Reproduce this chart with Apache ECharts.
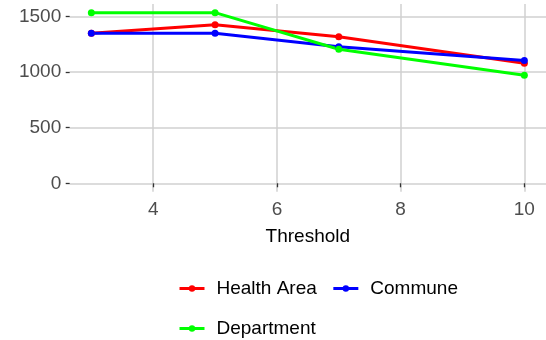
<!DOCTYPE html>
<html>
<head>
<meta charset="utf-8">
<script src="https://cdn.jsdelivr.net/npm/echarts@6/dist/echarts.min.js"></script>
<style>
  html, body { margin: 0; padding: 0; background: #ffffff; }
  #chart { width: 546px; height: 340px; }
</style>
</head>
<body>
<div id="chart"></div>
<script>
// Thresholds on the x axis
const thresholds = [3, 5, 7, 10];

// Counts per aggregation level
const healthArea = [1348, 1425, 1317, 1078];
const commune    = [1348, 1348, 1227, 1102];
const department = [1533, 1533, 1204, 970];

// Tick positions
const xTicks = [4, 6, 8, 10];
const yTicks = [0, 500, 1000, 1500];

const seriesDefs = [
  { name: 'Health Area', values: healthArea, color: '#ff0000' },
  { name: 'Commune',     values: commune,    color: '#0000ff' },
  { name: 'Department',  values: department, color: '#00ff00' }
];

const font = 'Liberation Sans, Arial, sans-serif';
const gridColor = '#d0d0d0';
const tickColor = '#333333';

const chart = echarts.init(document.getElementById('chart'), null, { renderer: 'canvas' });

const legendBase = {
  padding: 0,
  itemWidth: 25, itemHeight: 8, itemGap: 15,
  itemStyle: { borderWidth: 0 },
  lineStyle: { width: 3 },
  textStyle: { color: '#000000', fontSize: 19, fontFamily: font, padding: [0, 0, 0, 7] }
};

chart.setOption({
  backgroundColor: '#ffffff',
  animation: false,
  grid: { left: 69.7, right: -10.4, top: 4.1, bottom: 148.2, containLabel: false },
  xAxis: {
    type: 'value',
    min: 2.65,
    max: 10.35,
    name: 'Threshold',
    nameLocation: 'middle',
    nameGap: 35,
    nameTextStyle: { color: '#000000', fontSize: 19, fontFamily: font },
    axisLine: { show: false },
    axisTick: { show: true, customValues: xTicks, length: 4, lineStyle: { color: tickColor, width: 1.3 } },
    axisLabel: { customValues: xTicks, color: '#4d4d4d', fontSize: 19, fontFamily: font, margin: 8 },
    splitLine: { show: true, lineStyle: { color: gridColor, width: 1.5 } }
  },
  yAxis: {
    type: 'value',
    min: -76.65,
    max: 1609.65,
    axisLine: { show: false },
    axisTick: { show: true, customValues: yTicks, length: 4, lineStyle: { color: tickColor, width: 1.3 } },
    axisLabel: {
      customValues: yTicks,
      formatter: v => String(Math.round(v)),
      color: '#4d4d4d', fontSize: 19, fontFamily: font, margin: 8.5
    },
    splitLine: { show: true, lineStyle: { color: gridColor, width: 1.5 } }
  },
  legend: [
    Object.assign({ data: ['Health Area', 'Commune'], left: 178, top: 279 }, legendBase),
    Object.assign({ data: ['Department'], left: 178, top: 319 }, legendBase)
  ],
  series: seriesDefs.map(s => ({
    name: s.name,
    type: 'line',
    data: thresholds.map((t, i) => [t, s.values[i]]),
    color: s.color,
    symbol: 'circle',
    symbolSize: 7,
    lineStyle: { width: 3, color: s.color },
    itemStyle: { color: s.color }
  }))
});
</script>
</body>
</html>
